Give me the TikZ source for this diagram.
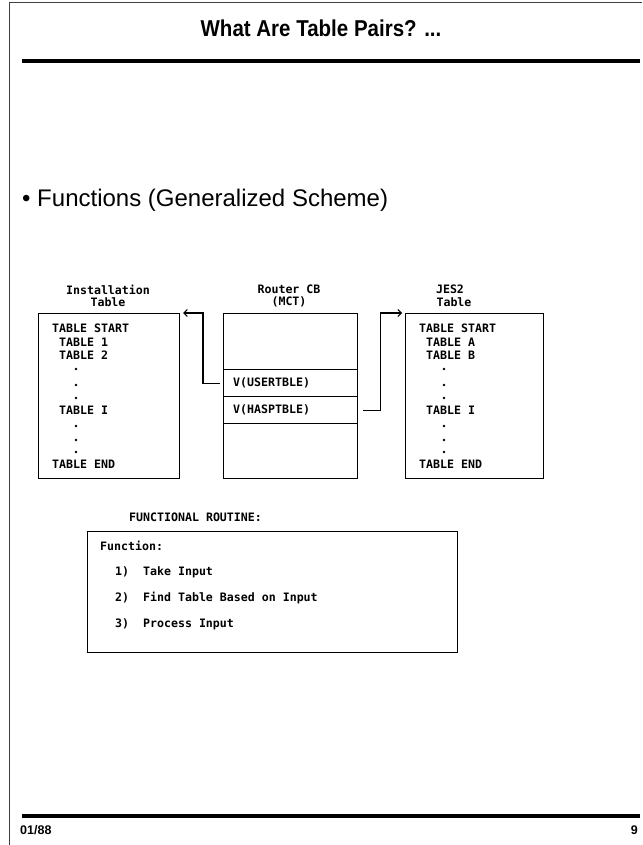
\documentclass[tikz,border=0pt]{standalone}
\usepackage{fontspec}
\setmainfont{Liberation Sans}
\newfontfamily\prfont{DejaVu Sans Mono}
\usetikzlibrary{arrows.meta}
\begin{document}
\begin{tikzpicture}[x=1pt,y=-1pt,
  boxline/.style={draw, line width=1.1pt, inner sep=0pt, anchor=north west},
  pr/.style={font=\prfont\bfseries\fontsize{11.6}{12}\selectfont, inner sep=0pt, anchor=west},
  prc/.style={font=\prfont\bfseries\fontsize{11.6}{12}\selectfont, inner sep=0pt, anchor=center},
  dotmark/.style={circle, fill=black, inner sep=0pt, minimum size=2.8pt},
  link/.style={line width=1.1pt, -{Straight Barb[length=3.5pt,width=7pt,line width=1pt]}},
  rule/.style={line width=3.6pt}
]
\useasboundingbox (0,0) rectangle (642,845);
% page frame
\coordinate (ftl) at (9,3);
\coordinate (fbl) at (9,845);
\coordinate (ftr) at (642,3);
\draw[line width=1pt, black!75] (fbl) -- (ftl) -- (ftr);
% title
\node[font=\bfseries\fontsize{20.5}{24}\selectfont, inner sep=0pt, yscale=1.12] (title) at (321,28) {What Are Table Pairs? ...};
\coordinate (tr1) at (22,61);
\coordinate (tr2) at (640,61);
\draw[rule] (tr1) -- (tr2);
% bullet
\node[font=\fontsize{24}{28}\selectfont, inner sep=0pt, anchor=west] (bullet) at (22,200) {\textbullet\ Functions (Generalized Scheme)};

% Installation table
\node[prc] (insth1) at (108,290) {Installation};
\node[prc] (insth2) at (108,302) {Table};
\node[boxline, minimum width=141pt, minimum height=165pt] (inst) at (38,313) {};
\node[pr] (i1) at (52,328) {TABLE START};
\node[pr] (i2) at (59,342) {TABLE 1};
\node[pr] (i3) at (59,355) {TABLE 2};
\node[dotmark] (id1) at (76,369) {};
\node[dotmark] (id2) at (76,385) {};
\node[dotmark] (id3) at (76,398) {};
\node[pr] (i4) at (59,410) {TABLE I};
\node[dotmark] (id4) at (76,426) {};
\node[dotmark] (id5) at (76,440) {};
\node[dotmark] (id6) at (76,452) {};
\node[pr] (i5) at (52,464) {TABLE END};

% Router CB
\node[prc] (rth1) at (289,289) {Router CB};
\node[prc] (rth2) at (289,302) {(MCT)};
\node[boxline, minimum width=134pt, minimum height=165pt] (router) at (223,313) {};
\node[boxline, minimum width=134pt, minimum height=27pt] (userrow) at (223,369) {};
\node[boxline, minimum width=134pt, minimum height=27pt] (hasprow) at (223,396) {};
\node[pr] (ut) at (233,383) {V(USERTBLE)};
\node[pr] (ht) at (233,410) {V(HASPTBLE)};

% JES2 table
\node[prc] (jh1) at (450,289) {JES2};
\node[prc] (jh2) at (454,302) {Table};
\node[boxline, minimum width=138pt, minimum height=165pt] (jes) at (405,313) {};
\node[pr] (j1) at (419,328) {TABLE START};
\node[pr] (j2) at (426,342) {TABLE A};
\node[pr] (j3) at (426,355) {TABLE B};
\node[dotmark] (jd1) at (444,369) {};
\node[dotmark] (jd2) at (444,385) {};
\node[dotmark] (jd3) at (444,398) {};
\node[pr] (j4) at (426,410) {TABLE I};
\node[dotmark] (jd4) at (444,426) {};
\node[dotmark] (jd5) at (444,440) {};
\node[dotmark] (jd6) at (444,452) {};
\node[pr] (j5) at (419,464) {TABLE END};

% connectors
\draw[link] ([xshift=-3pt]userrow.west) -- ++(-17,0) |- ([xshift=3pt]inst.north east);
\draw[link] ([xshift=5pt]hasprow.east) -- ++(17,0) |- ([xshift=-3pt]jes.north west);

% functional routine
\node[pr] (frh) at (129,517) {FUNCTIONAL ROUTINE:};
\node[boxline, minimum width=370pt, minimum height=121pt] (fr) at (87,531) {};
\node[pr] (f0) at (100,546) {Function:};
\node[pr] (f1) at (115,572) {1)\ \ Take Input};
\node[pr] (f2) at (115,598) {2)\ \ Find Table Based on Input};
\node[pr] (f3) at (115,624) {3)\ \ Process Input};

% footer
\coordinate (br1) at (22,816);
\coordinate (br2) at (640,816);
\draw[rule] (br1) -- (br2);
\node[font=\bfseries\fontsize{12.5}{14}\selectfont, inner sep=0pt, anchor=west] (date) at (20,830) {01/88};
\node[font=\bfseries\fontsize{12.5}{14}\selectfont, inner sep=0pt, anchor=east] (page) at (638,830) {9};
\end{tikzpicture}
\end{document}
